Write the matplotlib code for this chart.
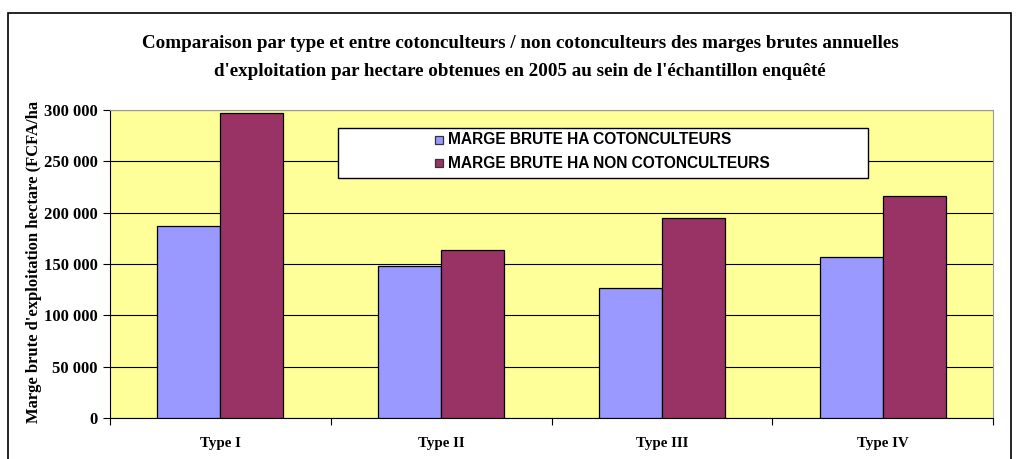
import matplotlib.pyplot as plt
from matplotlib.patches import Rectangle
from matplotlib.ticker import FuncFormatter

categories = ["Type I", "Type II", "Type III", "Type IV"]
coton = [187000, 148300, 126900, 157100]
non_coton = [297000, 163300, 194500, 216200]
series_names = ["MARGE BRUTE HA COTONCULTEURS", "MARGE BRUTE HA NON COTONCULTEURS"]
series_colors = ["#9999FF", "#993366"]
yticks = [0, 50000, 100000, 150000, 200000, 250000, 300000]

serif = ["Liberation Serif", "DejaVu Serif"]
sans = ["Liberation Sans", "DejaVu Sans"]

W, H = 1019, 459


def fx(px):
    return px / W


def fy(py):
    return 1 - py / H


fig = plt.figure(figsize=(W / 100, H / 100), dpi=100)
fig.patches.append(Rectangle((fx(8), -0.01), fx(1003), fy(13) + 0.01,
                             transform=fig.transFigure, fill=False,
                             edgecolor="black", linewidth=1.2))

ax = fig.add_axes([fx(110), fy(418), fx(883), 308 / H])
ax.set_facecolor("#FFFF99")

w = 0.2857
x = range(len(categories))
ax.bar([i - w / 2 for i in x], coton, width=w, color=series_colors[0],
       edgecolor="black", linewidth=0.9, zorder=3)
ax.bar([i + w / 2 for i in x], non_coton, width=w, color=series_colors[1],
       edgecolor="black", linewidth=0.9, zorder=3)

ax.set_xlim(-0.5, len(categories) - 0.5)
ax.set_ylim(0, 300000)
ax.set_yticks(yticks)
ax.yaxis.set_major_formatter(FuncFormatter(lambda v, p: f"{int(v):,}".replace(",", " ")))
ax.grid(axis="y", color="black", linewidth=0.8, zorder=1)

ax.set_xticks([i + 0.5 for i in range(-1, len(categories))])
ax.set_xticklabels([])
ax.set_xticks(list(x), minor=True)
ax.set_xticklabels(categories, minor=True, family=serif, fontweight="bold", fontsize=10.8)
ax.tick_params(axis="x", which="minor", length=0, pad=14)
ax.tick_params(axis="x", which="major", direction="out", length=5, width=0.8)
ax.tick_params(axis="y", direction="out", length=5, width=0.8, pad=4)
for lbl in ax.get_yticklabels():
    lbl.set_family(serif)
    lbl.set_fontweight("bold")
    lbl.set_fontsize(12)

for s in ["top", "right"]:
    ax.spines[s].set_color("#999999")
for s in ["left", "bottom"]:
    ax.spines[s].set_color("black")

fig.text(fx(34), fy(262), "Marge brute d'exploitation hectare (FCFA/ha",
         rotation=90, ha="center", va="center", family=serif,
         fontweight="bold", fontsize=12)

fig.text(fx(520), fy(43), "Comparaison par type et entre cotonculteurs / non cotonculteurs des marges brutes annuelles",
         ha="center", va="center", family=serif, fontweight="bold", fontsize=13.7)
fig.text(fx(520), fy(72), "d'exploitation par hectare obtenues en 2005 au sein de l'échantillon enquêté",
         ha="center", va="center", family=serif, fontweight="bold", fontsize=13.7)

# legend box drawn by hand to match the right-aligned layout
fig.patches.append(Rectangle((fx(338), fy(178)), fx(868) - fx(338), fy(128) - fy(178),
                             transform=fig.transFigure, facecolor="white",
                             edgecolor="black", linewidth=1.0, zorder=5))
for name, color, py in zip(series_names, series_colors, [140, 163]):
    fig.patches.append(Rectangle((fx(435), fy(py + 4)), fx(8), 8 / H,
                                 transform=fig.transFigure, facecolor=color,
                                 edgecolor="#333333", linewidth=0.9, zorder=6))
    fig.text(fx(448), fy(py), name, ha="left", va="center", family=sans,
             fontweight="bold", fontsize=11.2, zorder=6)

fig.savefig("out.png", dpi=100)
